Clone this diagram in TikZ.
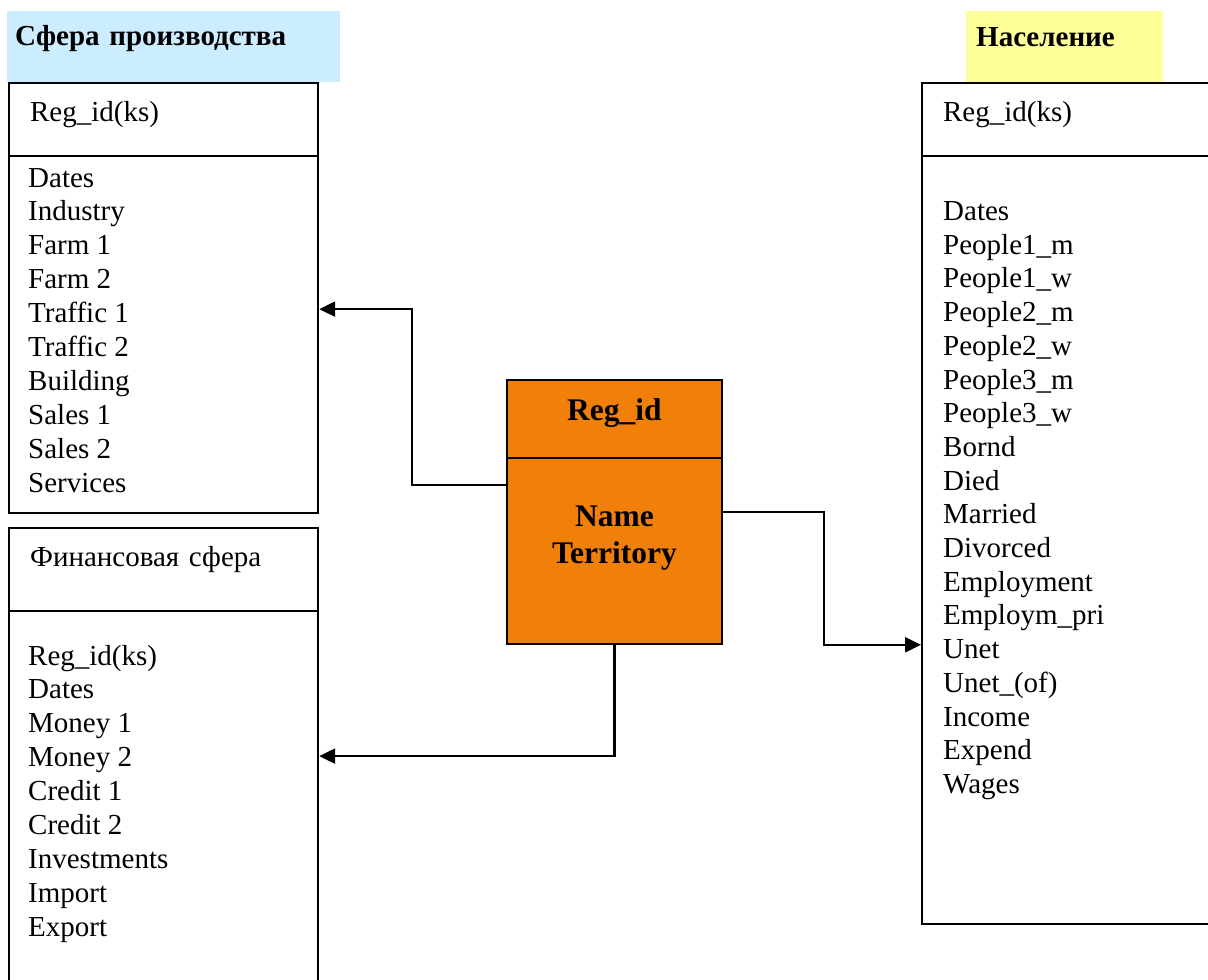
\documentclass[tikz,border=0pt]{standalone}
\usepackage{fontspec}
\setmainfont{Liberation Serif}
\usetikzlibrary{arrows.meta}
\definecolor{prodblue}{RGB}{204,236,255}
\definecolor{popyellow}{RGB}{255,255,153}
\definecolor{terrorange}{RGB}{240,128,10}
\newcommand{\fieldfont}{\fontsize{29}{33.8}\selectfont}
\newcommand{\tagfont}{\fontsize{29}{32}\selectfont\bfseries}
\tikzstyle{table} = [rectangle, draw, line width=2.2pt, inner sep=0pt, anchor=north west]
\tikzstyle{keyrow} = [table, inner xsep=21pt, text width=267pt,
    text height=38pt, text depth=35pt, font=\fieldfont]
\tikzstyle{field} = [anchor=base west, inner sep=0pt, font=\fieldfont]
\tikzstyle{tag} = [rectangle, anchor=north west, inner ysep=0pt, font=\tagfont]
\tikzstyle{entity} = [table, line width=1.8pt, fill=terrorange, text width=215pt, align=center,
    font=\fontsize{31.5}{36.7}\selectfont\bfseries]
\tikzstyle{line} = [draw, line width=2.2pt, -{Triangle[length=16pt,width=15pt]}]

\begin{document}
\begin{tikzpicture}[x=1pt, y=-1pt]
	\useasboundingbox (0,0) rectangle (1208,980);
	\clip (0,0) rectangle (1208,980);

	% group labels
	\node [tag, fill=prodblue, inner xsep=8pt, text width=317pt,
		text height=34.7pt, text depth=36.3pt] (prodtag) at (7,11) {Сфера производства};
	\node [tag, fill=popyellow, inner xsep=10pt, text width=177pt,
		text height=35pt, text depth=36pt] (poptag) at (966,11) {Население};

	% production table
	\node [keyrow] (prodkey) at (8,82) {Reg\_id(ks)};
	\node [table, minimum width=309pt, minimum height=357pt] (prodbody) at (8,155) {};
	\foreach \f [count=\i] in {Dates, Industry, Farm 1, Farm 2, Traffic 1, Traffic 2,
		Building, Sales 1, Sales 2, Services}
		\node [field] (prod\i) at (28,{187+33.9*(\i-1)}) {\f};

	% finance table
	\node [keyrow, text depth=45pt] (finkey) at (8,527) {Финансовая сфера};
	\node [table, minimum width=309pt, minimum height=380pt] (finbody) at (8,610) {};
	\foreach \f [count=\i] in {Reg\_id(ks), Dates, Money 1, Money 2, Credit 1, Credit 2,
		Investments, Import, Export}
		\node [field] (fin\i) at (28,{665+33.9*(\i-1)}) {\f};

	% population table
	\node [keyrow, text width=268pt] (popkey) at (921,82) {Reg\_id(ks)};
	\node [table, minimum width=310pt, minimum height=768pt] (popbody) at (921,155) {};
	\foreach \f [count=\i] in {Dates, People1\_m, People1\_w, People2\_m, People2\_w,
		People3\_m, People3\_w, Bornd, Died, Married, Divorced, Employment,
		Employm\_pri, Unet, Unet\_(of), Income, Expend, Wages}
		\node [field] (pop\i) at (943,{220.5+33.7*(\i-1)}) {\f};

	% territory
	\node [entity, text height=41pt, text depth=37pt] (terrkey) at (506,379) {Reg\_id};
	\node [entity, text height=69pt, text depth=117pt] (terrbody) at (506,457) {Name\\Territory};

	\path [line] ([yshift=66pt]terrbody.west) -- ++(-94,0) |- ([yshift=25.5pt]prodbody.east);
	\path [line] ([yshift=39pt]terrbody.east) -- ++(101,0) |- (popbody.west |- terrbody.south);
	\path [line] (terrbody.south) |- ([yshift=45pt]finbody.east);
\end{tikzpicture}
\end{document}
